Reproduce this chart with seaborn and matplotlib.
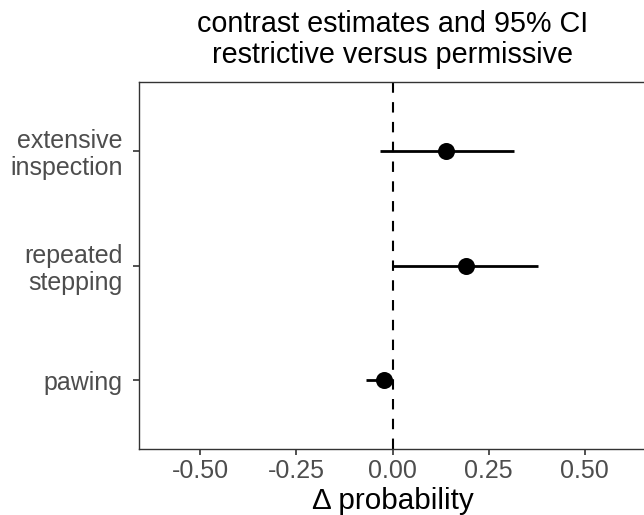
import matplotlib
matplotlib.use("Agg")
import matplotlib.pyplot as plt
import seaborn as sns
import pandas as pd

categories = ["pawing", "repeated\nstepping", "extensive\ninspection"]
estimates = [-0.023, 0.190, 0.140]
lower = [-0.068, 0.001, -0.033]
upper = [-0.005, 0.378, 0.315]
xticks = [-0.50, -0.25, 0.00, 0.25, 0.50]
xticklabels = ["-0.50", "-0.25", "0.00", "0.25", "0.50"]

sns.set_theme(style="white")
plt.rcParams['font.family'] = ['Liberation Sans', 'DejaVu Sans']

df = pd.DataFrame({"category": categories, "estimate": estimates,
                   "lower": lower, "upper": upper})
df["pos"] = range(len(df))

fig = plt.figure(figsize=(6.44, 5.15), dpi=100)
ax = fig.add_axes([139/644, 1-449/515, (646-139)/644, (449-82)/515])

ax.axvline(0, color="black", lw=1.5, ls=(0, (5, 4.5)), zorder=1)
ax.hlines(df["pos"], df["lower"], df["upper"], color="black", lw=2.0, zorder=2)
sns.scatterplot(data=df, x="estimate", y="pos", ax=ax, color="black",
                s=150, edgecolor="black", linewidth=0, zorder=3, legend=False)

ax.set_xlim(-0.659, 0.659)
ax.set_ylim(-0.6, 2.6)
ax.set_xticks(xticks)
ax.set_xticklabels(xticklabels)
ax.set_yticks(df["pos"])
ax.set_yticklabels(df["category"], linespacing=1.15)
ax.tick_params(axis="both", which="both", length=4.2, width=1.2, color="#333333",
               labelsize=18, labelcolor="#4D4D4D", direction="out",
               left=True, bottom=True)
ax.tick_params(axis="y", pad=7.5)
ax.tick_params(axis="x", pad=3)
ax.set_xlabel("Δ probability", fontsize=21.3, color="black", labelpad=3)
ax.set_ylabel("")
ax.set_title("contrast estimates and 95% CI\nrestrictive versus permissive",
             fontsize=20.7, color="black", pad=14, linespacing=1.12)
for s in ax.spines.values():
    s.set_color("#333333")
    s.set_linewidth(1.0)
ax.grid(False)

fig.savefig("out.png", dpi=100)
